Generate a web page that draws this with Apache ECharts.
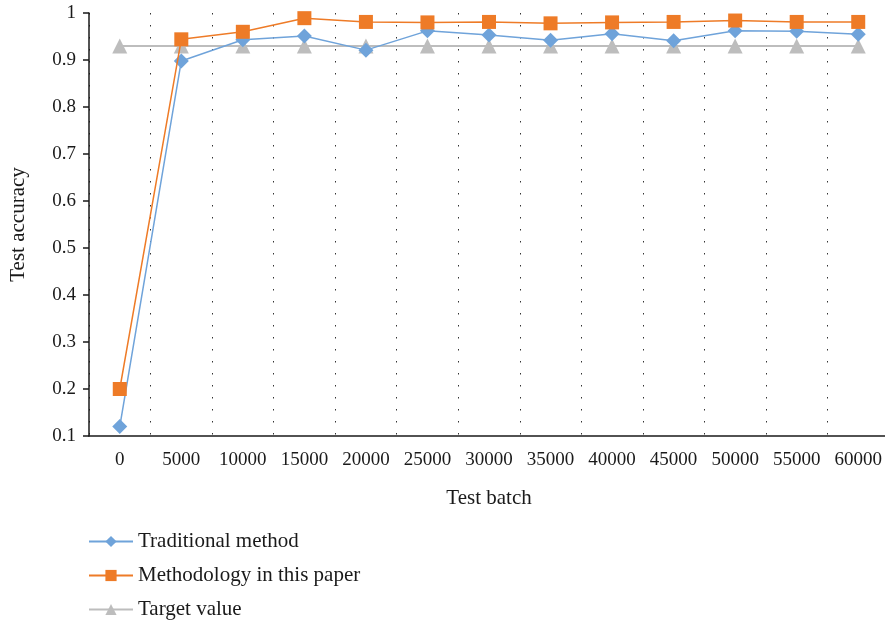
<!DOCTYPE html>
<html>
<head>
<meta charset="utf-8">
<script src="https://cdn.jsdelivr.net/npm/echarts@6/dist/echarts.min.js"></script>
<style>
  html, body { margin: 0; padding: 0; background: #fff; }
  #chart { width: 885px; height: 622px; }
</style>
</head>
<body>
<div id="chart"></div>
<script>
// Test batches on the x axis
const batches = ['0', '5000', '10000', '15000', '20000', '25000', '30000',
                 '35000', '40000', '45000', '50000', '55000', '60000'];

// Accuracy per batch for each method
const traditional = [0.12, 0.898, 0.943, 0.951, 0.921, 0.962, 0.953, 0.942, 0.956, 0.941, 0.962, 0.961, 0.955];
const proposed    = [0.2, 0.944, 0.96, 0.989, 0.981, 0.98, 0.981, 0.978, 0.98, 0.981, 0.984, 0.981, 0.981];
const target      = [0.93, 0.93, 0.93, 0.93, 0.93, 0.93, 0.93, 0.93, 0.93, 0.93, 0.93, 0.93, 0.93];

const seriesNames = ['Traditional method', 'Methodology in this paper', 'Target value'];

const FONT = '"Liberation Serif", "DejaVu Serif", serif';
const INK = '#1a1a1a';
const chart = echarts.init(document.getElementById('chart'), null, { renderer: 'canvas' });

chart.setOption({
  animation: false,
  backgroundColor: '#ffffff',
  textStyle: { fontFamily: FONT },
  grid: { left: 89, top: 13, width: 800, height: 423, containLabel: false, outerBoundsMode: 'none' },
  legend: {
    orient: 'vertical',
    left: 88,
    top: 531,
    height: 91,
    padding: 0,
    itemWidth: 44,
    itemHeight: 14,
    itemGap: 13,
    textStyle: { fontFamily: FONT, fontSize: 21, lineHeight: 20, color: INK },
    data: seriesNames
  },
  xAxis: {
    type: 'category',
    data: batches,
    boundaryGap: true,
    name: 'Test batch',
    nameLocation: 'middle',
    nameGap: 52,
    nameTextStyle: { fontFamily: FONT, fontSize: 21, color: INK },
    axisLine: { lineStyle: { color: INK, width: 1.5 } },
    axisTick: { alignWithLabel: true, length: 6, lineStyle: { color: INK, width: 1.5 } },
    axisLabel: { fontFamily: FONT, fontSize: 19, color: INK, margin: 15, interval: 0 },
    splitLine: { show: true, lineStyle: { color: '#333', width: 1, type: [1.5, 10.5] } }
  },
  yAxis: {
    type: 'value',
    min: 0.1,
    max: 1,
    interval: 0.1,
    name: 'Test accuracy',
    nameLocation: 'middle',
    nameGap: 60,
    nameTextStyle: { fontFamily: FONT, fontSize: 21, color: INK },
    axisLine: { show: true, lineStyle: { color: INK, width: 1.5 } },
    axisTick: { show: true, length: 6, lineStyle: { color: INK, width: 1.5 } },
    axisLabel: {
      fontFamily: FONT, fontSize: 19, color: INK, margin: 13,
      formatter: v => String(Math.round(v * 10) / 10)
    },
    splitLine: { show: false }
  },
  series: [
    {
      name: seriesNames[2],
      type: 'line',
      data: target,
      symbol: 'triangle',
      symbolSize: 15,
      itemStyle: { color: '#BDBDBD' },
      lineStyle: { color: '#BDBDBD', width: 2 },
      z: 2
    },
    {
      name: seriesNames[0],
      type: 'line',
      data: traditional,
      symbol: 'diamond',
      symbolSize: 15,
      itemStyle: { color: '#6FA3DA' },
      lineStyle: { color: '#6FA3DA', width: 1.5 },
      z: 3
    },
    {
      name: seriesNames[1],
      type: 'line',
      data: proposed,
      symbol: 'rect',
      symbolSize: 14,
      itemStyle: { color: '#EE7B27' },
      lineStyle: { color: '#EE7B27', width: 1.5 },
      z: 4
    }
  ]
});
</script>
</body>
</html>
